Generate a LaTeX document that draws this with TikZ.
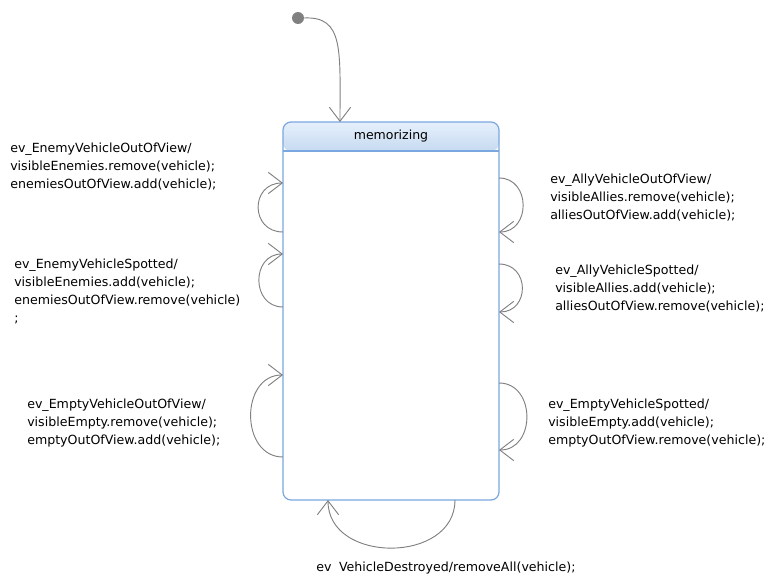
\documentclass[tikz,border=0pt]{standalone}
\usepackage{fontspec}
\setmainfont{DejaVu Sans}
\usetikzlibrary{arrows.meta}
\definecolor{stateline}{HTML}{7AA7E0}
\definecolor{headtop}{HTML}{E6F0FB}
\definecolor{headbot}{HTML}{C6DAF1}
\definecolor{wire}{HTML}{808080}
\tikzset{
  trans/.style={draw=wire, line width=0.7pt, -{Straight Barb[length=10.5pt,width=16pt,line width=0.7pt]}},
  lbl/.style={anchor=north west, align=left, inner sep=0pt, font=\fontsize{9.45}{13.4}\selectfont},
}
\begin{document}
\begin{tikzpicture}[x=0.75pt,y=-0.75pt]
\useasboundingbox (0,0) rectangle (769,578);

% initial pseudo-state
\fill[wire] (298,18) circle (6);
\coordinate (init) at (304,18);

% state box
\fill[white, rounded corners=6pt] (283,122) rectangle (499,500);
\shade[top color=headtop, bottom color=headbot, rounded corners=6pt]
  (283,151) -- (283,122) -- (499,122) -- (499,151) -- cycle;
\draw[stateline, line width=0.9pt] (283,151) -- (499,151);
\draw[stateline, line width=0.9pt, rounded corners=6pt] (283,122) rectangle (499,500);
\node[font=\fontsize{9.4}{11}\selectfont] (title) at (391,136) {memorizing};

% attachment points on the state border
\coordinate (top) at (340,122);
\coordinate (l1a) at (283,232); \coordinate (l1b) at (283,183);
\coordinate (l2a) at (283,307); \coordinate (l2b) at (283,254);
\coordinate (l3a) at (283,457); \coordinate (l3b) at (283,375);
\coordinate (r1a) at (499,178); \coordinate (r1b) at (499,232);
\coordinate (r2a) at (499,264); \coordinate (r2b) at (499,312);
\coordinate (r3a) at (499,383); \coordinate (r3b) at (499,450);
\coordinate (ba) at (455,500); \coordinate (bb) at (328,500);

% transitions
\draw[trans] (init) .. controls (344,16) and (340,50) .. (top);
\draw[trans] (l1a) .. controls (250,232) and (250,183) .. (l1b);
\draw[trans] (l2a) .. controls (251,307) and (251,254) .. (l2b);
\draw[trans] (l3a) .. controls (240,457) and (240,375) .. (l3b);
\draw[trans] (r1a) .. controls (531,178) and (531,232) .. (r1b);
\draw[trans] (r2a) .. controls (530,264) and (530,312) .. (r2b);
\draw[trans] (r3a) .. controls (536,383) and (536,450) .. (r3b);
\draw[trans] (ba) .. controls (455,564) and (328,564) .. (bb);

% transition labels
\node[lbl] (t1) at (10,143) {ev\_EnemyVehicleOutOfView/\\visibleEnemies.remove(vehicle);\\enemiesOutOfView.add(vehicle);};
\node[lbl] (t2) at (14,259) {ev\_EnemyVehicleSpotted/\\visibleEnemies.add(vehicle);\\enemiesOutOfView.remove(vehicle)\\;};
\node[lbl] (t3) at (27,399) {ev\_EmptyVehicleOutOfView/\\visibleEmpty.remove(vehicle);\\emptyOutOfView.add(vehicle);};
\node[lbl] (t4) at (550,174) {ev\_AllyVehicleOutOfView/\\visibleAllies.remove(vehicle);\\alliesOutOfView.add(vehicle);};
\node[lbl] (t5) at (555,265) {ev\_AllyVehicleSpotted/\\visibleAllies.add(vehicle);\\alliesOutOfView.remove(vehicle);};
\node[lbl] (t6) at (548,399) {ev\_EmptyVehicleSpotted/\\visibleEmpty.add(vehicle);\\emptyOutOfView.remove(vehicle);};
\node[lbl] (t7) at (316,562) {ev\hspace{0.6em}VehicleDestroyed/removeAll(vehicle);};
\end{tikzpicture}
\end{document}
